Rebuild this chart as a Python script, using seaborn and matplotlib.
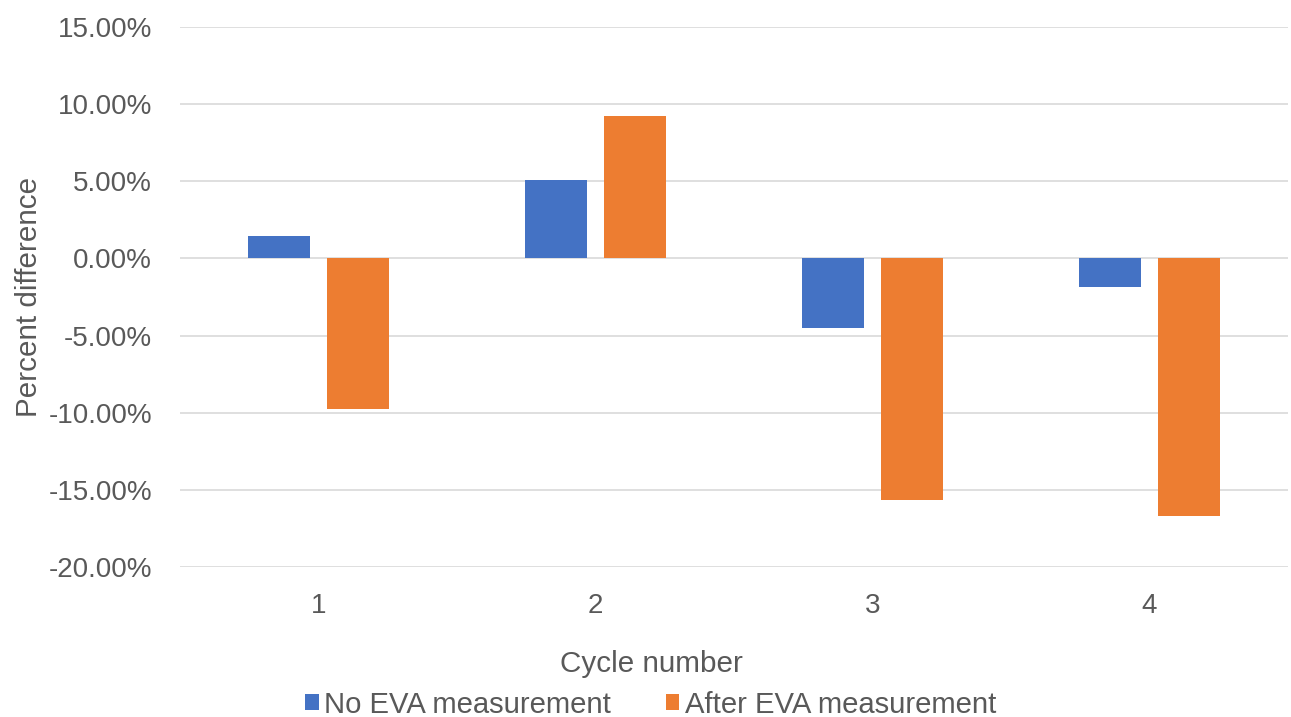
import matplotlib
matplotlib.use("Agg")
import matplotlib.pyplot as plt
from matplotlib.ticker import PercentFormatter, MultipleLocator
import seaborn as sns
import pandas as pd

cycles = ["1", "2", "3", "4"]
series_names = ["No EVA measurement", "After EVA measurement"]
no_eva = [1.45, 5.1, -4.5, -1.84]
after_eva = [-9.75, 9.2, -15.67, -16.69]
colors = ["#4472C4", "#ED7D31"]

df = pd.DataFrame({
    "Cycle": cycles * 2,
    "Series": [series_names[0]] * len(cycles) + [series_names[1]] * len(cycles),
    "Value": no_eva + after_eva,
})

sns.set_theme(style="white")
plt.rcParams["font.family"] = ["Liberation Sans", "DejaVu Sans"]
plt.rcParams["axes.unicode_minus"] = False

text_color = "#595959"
fig = plt.figure(figsize=(12.91, 7.17), dpi=100)
ax = fig.add_axes([180 / 1291, 1 - 567 / 717, 1108 / 1291, 540 / 717])

sns.barplot(data=df, x="Cycle", y="Value", hue="Series", order=cycles,
            hue_order=series_names, palette=colors, width=0.572, gap=0.217,
            linewidth=0, saturation=1, ax=ax, zorder=3)

ax.set_xlim(-0.5, 3.5)
ax.set_ylim(-20, 15)
ax.yaxis.set_major_locator(MultipleLocator(5))
ax.yaxis.set_major_formatter(PercentFormatter(xmax=100, decimals=2))
ax.grid(axis="y", color="#D9D9D9", linewidth=1.2, zorder=0)
ax.grid(axis="x", visible=False)
for s in ax.spines.values():
    s.set_visible(False)
ax.tick_params(axis="both", length=0, labelsize=20, labelcolor=text_color)
ax.tick_params(axis="y", pad=20)
ax.tick_params(axis="x", pad=19)
ax.set_xlabel("Cycle number", fontsize=21.3, color=text_color, labelpad=22)
ax.xaxis.label.set_x((651 - 180) / 1108)
ax.set_ylabel("Percent difference", fontsize=21.3, color=text_color, labelpad=4)

handles, labels = ax.get_legend_handles_labels()
ax.get_legend().remove()
fig.legend(handles, labels, loc="center", bbox_to_anchor=(0.504, 0.017),
           ncol=2, frameon=False, fontsize=21.1, labelcolor=text_color,
           handlelength=0.45, handleheight=0.45, handletextpad=0.2,
           columnspacing=1.85, borderaxespad=0, borderpad=0)

fig.savefig("out.png", dpi=100)
